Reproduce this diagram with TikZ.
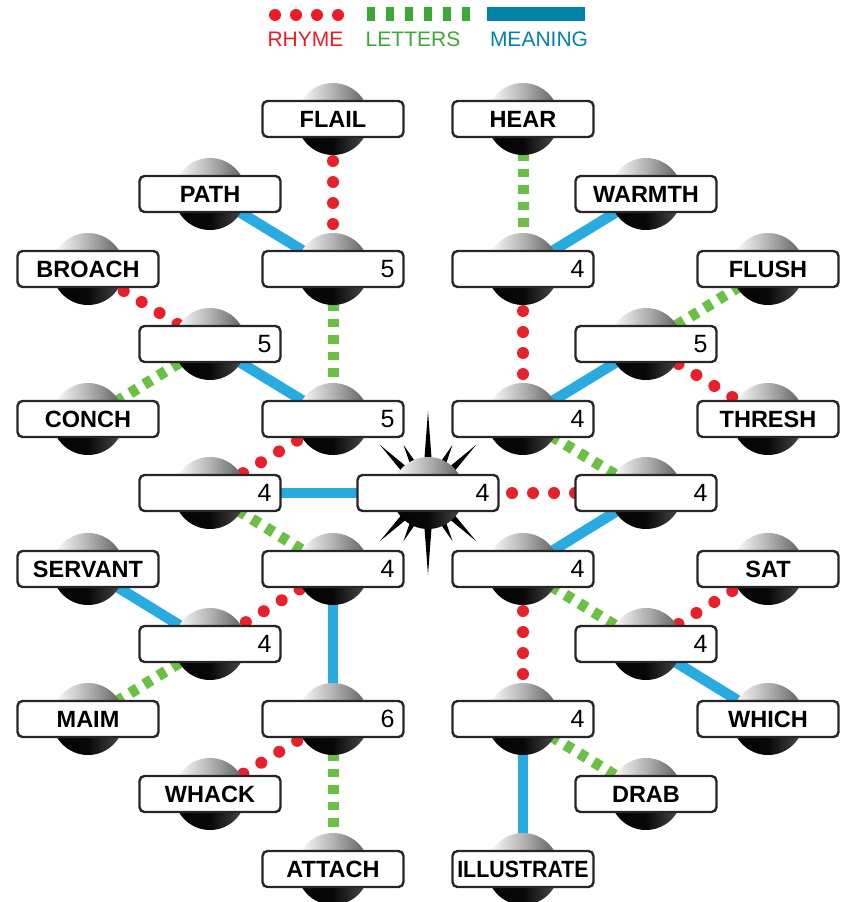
\documentclass[tikz,border=0pt]{standalone}
\usepackage{fontspec}
\setmainfont{Liberation Sans}
\usetikzlibrary{calc}
\pgfdeclarelayer{lines}
\pgfdeclarelayer{balls}
\pgfsetlayers{lines,balls,main}
\definecolor{rhymered}{HTML}{E8202A}
\definecolor{lettgreen}{HTML}{6ABF45}
\definecolor{meanblue}{HTML}{29ABE2}
\definecolor{legred}{HTML}{ED1C24}
\definecolor{leggreen}{HTML}{3AAA35}
\definecolor{legblue}{HTML}{0083A6}
\pgfdeclarehorizontalshading{captop}{100bp}{color(0bp)=(black!35);color(30bp)=(white!95!black);color(50bp)=(black!30);color(75bp)=(black!65);color(92bp)=(black!88);color(100bp)=(black)}
\pgfdeclarehorizontalshading{capbot}{100bp}{color(0bp)=(black);color(50bp)=(black!97);color(76bp)=(black!68);color(92bp)=(black!88);color(100bp)=(black)}
\tikzset{
  box/.style={draw=black!85, line width=2.4pt, fill=white, rounded corners=5pt,
    minimum width=141pt, minimum height=36pt, inner sep=0pt},
  wordbox/.style={box, font=\bfseries\fontsize{23.5}{24}\selectfont},
  numbox/.style={box, text width=123pt, align=right, inner xsep=9pt, inner ysep=0pt,
    font=\fontsize{25}{25}\selectfont},
  rhyme/.style={draw=rhymered, line width=12pt, line cap=round, dash pattern=on 0pt off 21pt},
  letters/.style={draw=lettgreen, line width=11pt, dash pattern=on 8.5pt off 8pt},
  meaning/.style={draw=meanblue, line width=10.5pt},
  legtext/.style={font=\fontsize{21}{21}\selectfont, inner sep=0pt, anchor=center}
}
\newcommand\wn[5]{%
  \begin{pgfonlayer}{balls}
  \begin{scope}
  \clip (#2,#3) circle[radius=36pt];
  \shade[shading=captop] (#2-36,#3-36) rectangle (#2+36,#3);
  \shade[shading=capbot] (#2-36,#3) rectangle (#2+36,#3+36);
  \end{scope}
  \end{pgfonlayer}
  \node[#5] (#1) at (#2,#3) {#4};}
\begin{document}
\begin{tikzpicture}[x=1pt,y=-1pt]
\useasboundingbox (0,0) rectangle (854,902);
% legend
\foreach \xx in {275,296,317,338} \fill[legred] (\xx,15) circle[radius=6pt];
\foreach \xx in {367,386,405,424,443,462} \fill[leggreen] (\xx,7) rectangle ++(8,14);
\fill[legblue] (487,7) rectangle (585,21);
\node[legtext, text=legred] (lr) at (305.5,39.5) {RHYME};
\node[legtext, text=leggreen] (lg) at (413,39.5) {LETTERS};
\node[legtext, text=legblue] (lb) at (539,39.5) {MEANING};
% star spikes
\begin{pgfonlayer}{balls}
\begin{scope}[shift={(428,493)}]
\foreach \a/\l in {90/82,270/82,45/68,135/68,225/68,315/68,63/54,117/54,243/54,297/54}
  \fill[black,rotate=\a] (22,-4.5) -- (\l,0) -- (22,4.5) -- cycle;
\end{scope}
\end{pgfonlayer}
% nodes left
\wn{flail}{333}{119}{FLAIL}{wordbox}
\wn{path}{210}{194}{PATH}{wordbox}
\wn{a1}{333}{269}{5}{numbox}
\wn{broach}{88}{269}{BROACH}{wordbox}
\wn{a2}{210}{344}{5}{numbox}
\wn{conch}{88}{419}{CONCH}{wordbox}
\wn{a3}{333}{419}{5}{numbox}
\wn{a4}{210}{493}{4}{numbox}
\wn{ctr}{428}{493}{4}{numbox}
\wn{a5}{333}{569}{4}{numbox}
\wn{servant}{88}{569}{SERVANT}{wordbox}
\wn{a6}{210}{644}{4}{numbox}
\wn{maim}{88}{719}{MAIM}{wordbox}
\wn{a7}{333}{719}{6}{numbox}
\wn{whack}{210}{794}{WHACK}{wordbox}
\wn{attach}{333}{869}{ATTACH}{wordbox}
% nodes right
\wn{hear}{523}{119}{HEAR}{wordbox}
\wn{warmth}{646}{194}{WARMTH}{wordbox}
\wn{b1}{523}{269}{4}{numbox}
\wn{flush}{768}{269}{FLUSH}{wordbox}
\wn{b2}{646}{344}{5}{numbox}
\wn{b3}{523}{419}{4}{numbox}
\wn{thresh}{768}{419}{THRESH}{wordbox}
\wn{b4}{646}{493}{4}{numbox}
\wn{b5}{523}{569}{4}{numbox}
\wn{sat}{768}{569}{SAT}{wordbox}
\wn{b6}{646}{644}{4}{numbox}
\wn{b7}{523}{719}{4}{numbox}
\wn{which}{768}{719}{WHICH}{wordbox}
\wn{drab}{646}{794}{DRAB}{wordbox}
\wn{illustrate}{523}{869}{\scalebox{0.91}[1]{ILLUSTRATE}}{wordbox}
% connectors
\begin{pgfonlayer}{lines}
\draw[rhyme] (flail.center) -- (a1.center);
\draw[meaning] (path.center) -- (a1.center);
\draw[letters] (a1.center) -- (a3.center);
\draw[rhyme] (broach.center) -- (a2.center);
\draw[letters] (conch.center) -- (a2.center);
\draw[meaning] (a2.center) -- (a3.center);
\draw[rhyme] (a3.center) -- (a4.center);
\draw[meaning] (a4.center) -- (ctr.center);
\draw[letters] (a4.center) -- (a5.center);
\draw[rhyme] (ctr.center) -- (b4.center);
\draw[meaning] (a5.center) -- (a7.center);
\draw[meaning] (servant.center) -- (a6.center);
\draw[rhyme] (a6.center) -- (a5.center);
\draw[letters] (maim.center) -- (a6.center);
\draw[rhyme] (a7.center) -- (whack.center);
\draw[letters] (a7.center) -- (attach.center);
\draw[letters] (hear.center) -- (b1.center);
\draw[meaning] (warmth.center) -- (b1.center);
\draw[rhyme] (b1.center) -- (b3.center);
\draw[letters] (flush.center) -- (b2.center);
\draw[rhyme] (thresh.center) -- (b2.center);
\draw[meaning] (b2.center) -- (b3.center);
\draw[letters] (b3.center) -- (b4.center);
\draw[meaning] (b4.center) -- (b5.center);
\draw[letters] (b5.center) -- (b6.center);
\draw[rhyme] (sat.center) -- (b6.center);
\draw[meaning] (b6.center) -- (which.center);
\draw[rhyme] (b5.center) -- (b7.center);
\draw[letters] (b7.center) -- (drab.center);
\draw[meaning] (b7.center) -- (illustrate.center);
\end{pgfonlayer}
\end{tikzpicture}
\end{document}
